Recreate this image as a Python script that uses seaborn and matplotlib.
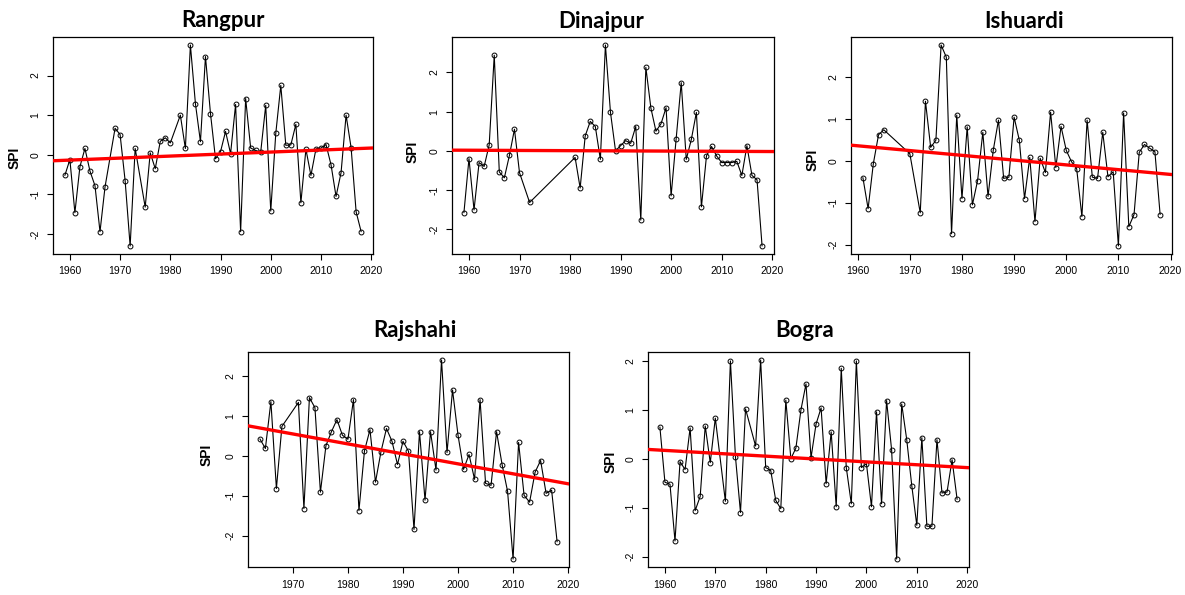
import numpy as np
import pandas as pd
import matplotlib
matplotlib.use("Agg")
import matplotlib.pyplot as plt
import seaborn as sns

# ---------------------------------------------------------------
# SPI series per station
# ---------------------------------------------------------------

rangpur_years = [1959, 1960, 1961, 1962, 1963, 1964, 1965, 1966, 1967, 1969,
                 1970, 1971, 1972, 1973, 1975, 1976, 1977, 1978, 1979, 1980,
                 1982, 1983, 1984, 1985, 1986, 1987, 1988, 1989, 1990, 1991,
                 1992, 1993, 1994, 1995, 1996, 1997, 1998, 1999, 2000, 2001,
                 2002, 2003, 2004, 2005, 2006, 2007, 2008, 2009, 2010, 2011,
                 2012, 2013, 2014, 2015, 2016, 2017, 2018]
rangpur_spi = [-0.52, -0.12, -1.46, -0.30, 0.16, -0.41, -0.78, -1.94, -0.81, 0.67,
               0.51, -0.65, -2.30, 0.16, -1.32, 0.05, -0.35, 0.34, 0.43, 0.30,
               1.00, 0.16, 2.77, 1.29, 0.33, 2.48, 1.04, -0.10, 0.08, 0.59,
               0.03, 1.27, -1.94, 1.42, 0.17, 0.11, 0.07, 1.25, -1.42, 0.54,
               1.75, 0.24, 0.25, 0.77, -1.21, 0.14, -0.52, 0.15, 0.17, 0.26,
               -0.25, -1.05, -0.45, 1.00, 0.18, -1.44, -1.94]

dinajpur_years = [1959, 1960, 1961, 1962, 1963, 1964, 1965, 1966, 1967, 1968,
                  1969, 1970, 1972, 1981, 1982, 1983, 1984, 1985, 1986, 1987,
                  1988, 1989, 1990, 1991, 1992, 1993, 1994, 1995, 1996, 1997,
                  1998, 1999, 2000, 2001, 2002, 2003, 2004, 2005, 2006, 2007,
                  2008, 2009, 2010, 2011, 2012, 2013, 2014, 2015, 2016, 2017,
                  2018]
dinajpur_spi = [-1.58, -0.20, -1.51, -0.30, -0.40, 0.15, 2.44, -0.54, -0.69, -0.12,
                0.55, -0.56, -1.32, -0.17, -0.95, 0.38, 0.75, 0.62, -0.22, 2.70,
                0.98, 0.00, 0.13, 0.26, 0.19, 0.62, -1.77, 2.13, 1.09, 0.50,
                0.69, 1.10, -1.15, 0.31, 1.74, -0.22, 0.29, 0.98, -1.43, -0.13,
                0.11, -0.13, -0.30, -0.30, -0.30, -0.27, -0.63, 0.13, -0.63, -0.74,
                -2.43]

ishuardi_years = [1961, 1962, 1963, 1964, 1965, 1970, 1972, 1973, 1974, 1975,
                  1976, 1977, 1978, 1979, 1980, 1981, 1982, 1983, 1984, 1985,
                  1986, 1987, 1988, 1989, 1990, 1991, 1992, 1993, 1994, 1995,
                  1996, 1997, 1998, 1999, 2000, 2001, 2002, 2003, 2004, 2005,
                  2006, 2007, 2008, 2009, 2010, 2011, 2012, 2013, 2014, 2015,
                  2016, 2017, 2018]
ishuardi_spi = [-0.40, -1.14, -0.07, 0.62, 0.74, 0.17, -1.24, 1.42, 0.32, 0.49,
                2.76, 2.47, -1.74, 1.09, -0.90, 0.81, -1.05, -0.47, 0.68, -0.85,
                0.25, 0.97, -0.42, -0.39, 1.04, 0.49, -0.90, 0.08, -1.45, 0.06,
                -0.28, 1.16, -0.16, 0.82, 0.25, -0.02, -0.19, -1.33, 0.97, -0.39,
                -0.42, 0.68, -0.38, -0.26, -2.03, 1.14, -1.57, -1.28, 0.20, 0.39,
                0.30, 0.22, -1.28]

rajshahi_years = [1964, 1965, 1966, 1967, 1968, 1971, 1972, 1973, 1974, 1975,
                  1976, 1977, 1978, 1979, 1980, 1981, 1982, 1983, 1984, 1985,
                  1986, 1987, 1988, 1989, 1990, 1991, 1992, 1993, 1994, 1995,
                  1996, 1997, 1998, 1999, 2000, 2001, 2002, 2003, 2004, 2005,
                  2006, 2007, 2008, 2009, 2010, 2011, 2012, 2013, 2014, 2015,
                  2016, 2017, 2018]
rajshahi_spi = [0.42, 0.18, 1.35, -0.82, 0.73, 1.33, -1.32, 1.45, 1.20, -0.91,
                0.25, 0.60, 0.90, 0.51, 0.41, 1.40, -1.37, 0.12, 0.65, -0.66,
                0.10, 0.68, 0.36, -0.22, 0.36, 0.11, -1.84, 0.60, -1.11, 0.60,
                -0.36, 2.39, 0.08, 1.64, 0.51, -0.34, 0.03, -0.59, 1.40, -0.69,
                -0.74, 0.60, -0.22, -0.89, -2.58, 0.33, -0.99, -1.16, -0.41, -0.12,
                -0.94, -0.86, -2.15]

bogra_years = [1959, 1960, 1961, 1962, 1963, 1964, 1965, 1966, 1967, 1968,
               1969, 1970, 1972, 1973, 1974, 1975, 1976, 1978, 1979, 1980,
               1981, 1982, 1983, 1984, 1985, 1986, 1987, 1988, 1989, 1990,
               1991, 1992, 1993, 1994, 1995, 1996, 1997, 1998, 1999, 2000,
               2001, 2002, 2003, 2004, 2005, 2006, 2007, 2008, 2009, 2010,
               2011, 2012, 2013, 2014, 2015, 2016, 2017, 2018]
bogra_spi = [0.65, -0.48, -0.52, -1.68, -0.06, -0.22, 0.63, -1.06, -0.77, 0.67,
             -0.08, 0.83, -0.87, 2.00, 0.04, -1.10, 1.02, 0.26, 2.02, -0.18,
             -0.24, -0.85, -1.02, 1.20, 0.00, 0.22, 1.00, 1.53, 0.02, 0.71,
             1.04, -0.51, 0.55, -0.98, 1.85, -0.18, -0.92, 2.00, -0.18, -0.10,
             -0.98, 0.96, -0.92, 1.19, 0.18, -2.05, 1.12, 0.39, -0.55, -1.36,
             0.43, -1.38, -1.38, 0.39, -0.70, -0.68, -0.02, -0.83]

stations = ["Rangpur", "Dinajpur", "Ishuardi", "Rajshahi", "Bogra"]
station_years = [rangpur_years, dinajpur_years, ishuardi_years, rajshahi_years, bogra_years]
station_spi = [rangpur_spi, dinajpur_spi, ishuardi_spi, rajshahi_spi, bogra_spi]

# -----------------------------------------------------------
# Layout (pixel boxes of the 1185x595 reference)
# -----------------------------------------------------------

W, H = 1185, 595
boxes = [(53, 37, 373, 254), (452, 37, 774, 254), (851, 37, 1172, 254),
         (248, 352, 569, 567), (648, 352, 969, 567)]  # left, top, right, bottom
title_pos = [(223, 27), (601, 28), (1024, 28), (415, 337), (805, 337)]
ylab_pos = [(15, 158), (413, 152), (813, 160), (207, 455), (611, 462)]

sns.set_style("ticks")
plt.rcParams['font.family'] = ['Liberation Sans', 'DejaVu Sans']
plt.rcParams['text.color'] = 'black'
plt.rcParams['axes.edgecolor'] = 'black'
plt.rcParams['xtick.color'] = 'black'
plt.rcParams['ytick.color'] = 'black'
plt.rcParams['xtick.major.size'] = 4
plt.rcParams['ytick.major.size'] = 4
plt.rcParams['xtick.major.width'] = 0.8
plt.rcParams['ytick.major.width'] = 0.8

fig = plt.figure(figsize=(W / 100, H / 100), dpi=100)

for i, name in enumerate(stations):
    l, t, r, b = boxes[i]
    ax = fig.add_axes([l / W, 1 - b / H, (r - l) / W, (b - t) / H])
    df = pd.DataFrame({'Year': station_years[i], 'SPI': station_spi[i]})

    sns.lineplot(data=df, x='Year', y='SPI', ax=ax, color='black', lw=0.8,
                 marker='o', markersize=3.5, markerfacecolor='none',
                 markeredgecolor='black', markeredgewidth=0.7)

    # linear trend over the full axis (like abline in R)
    m, c = np.polyfit(df['Year'], df['SPI'], 1)
    x0 = df['Year'].mean()
    ax.axline((x0, m * x0 + c), slope=m, color='red', lw=2.4, zorder=3)

    # R-style 4% padding
    xr = df['Year'].max() - df['Year'].min()
    yr = df['SPI'].max() - df['SPI'].min()
    ax.set_xlim(df['Year'].min() - 0.04 * xr, df['Year'].max() + 0.04 * xr)
    ax.set_ylim(df['SPI'].min() - 0.04 * yr, df['SPI'].max() + 0.04 * yr)

    ax.set_xticks(range(1960 if df['Year'].min() < 1962 else 1970, 2021, 10))
    ax.set_yticks([-2, -1, 0, 1, 2])
    ax.set_yticklabels(['-2', '-1', '0', '1', '2'], rotation=90, va='center')
    ax.tick_params(labelsize=7.5, pad=5)
    for s in ax.spines.values():
        s.set_linewidth(0.9)
        s.set_visible(True)
    ax.set_xlabel('')
    ax.set_ylabel('')

    tx, ty = title_pos[i]
    fig.text(tx / W, 1 - ty / H, name, ha='center', va='baseline',
             fontsize=16, fontweight='bold', family=['Lato', 'DejaVu Sans'])
    lx, ly = ylab_pos[i]
    fig.text(lx / W, 1 - ly / H, 'SPI', ha='center', va='center', rotation=90,
             fontsize=10, fontweight='bold')

fig.savefig('out.png', dpi=100)
